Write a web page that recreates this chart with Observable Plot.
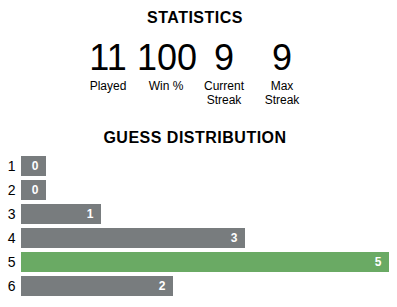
<!DOCTYPE html>
<html>
<head>
<meta charset="utf-8">
<script src="https://cdn.jsdelivr.net/npm/d3@7"></script>
<script src="https://cdn.jsdelivr.net/npm/@observablehq/plot@0.6"></script>
<style>
  html, body { margin: 0; padding: 0; background: #fff; }
  body { width: 397px; height: 307px; position: relative; overflow: hidden;
         font-family: "Liberation Sans", Arial, Helvetica, sans-serif; color: #000; }
  .title { position: absolute; left: 0; width: 390px; text-align: center;
           font-size: 16px; line-height: 16px; font-weight: bold; letter-spacing: 0.5px; }
  #stats { position: absolute; left: 79px; top: 40px; display: flex; }
  .stat { width: 58px; text-align: center; }
  .num { font-size: 36px; line-height: 36px; height: 39.3px; }
  .lab { font-size: 12px; line-height: 14px; white-space: pre-line; }
  #chart { position: absolute; left: 0; top: 150px; }
</style>
</head>
<body>
<div class="title" style="top:9.5px">STATISTICS</div>
<div id="stats"></div>
<div class="title" style="top:130px">GUESS DISTRIBUTION</div>
<div id="chart"></div>
<script>
const statValues = [11, 100, 9, 9];
const statLabels = ["Played", "Win %", "Current\nStreak", "Max\nStreak"];
const guesses = [1, 2, 3, 4, 5, 6];
const counts = [0, 0, 1, 3, 5, 2];
const winningGuess = 5;
const minBar = 0.236;

const statsEl = document.getElementById("stats");
statValues.forEach((v, i) => {
  const d = document.createElement("div");
  d.className = "stat";
  const n = document.createElement("div");
  n.className = "num";
  n.textContent = String(v);
  const l = document.createElement("div");
  l.className = "lab";
  l.textContent = statLabels[i];
  d.appendChild(n);
  d.appendChild(l);
  statsEl.appendChild(d);
});

const data = guesses.map((g, i) => ({guess: g, count: counts[i]}));

const chart = Plot.plot({
  width: 397,
  height: 157,
  marginLeft: 29,
  marginRight: 8,
  marginTop: 4,
  marginBottom: 9,
  style: {fontSize: "14px", fontFamily: "'Liberation Sans', Arial, Helvetica, sans-serif", color: "#000", background: "transparent"},
  x: {domain: [0, 5], axis: null},
  y: {domain: guesses, padding: 0, tickSize: 0, tickPadding: 14, label: null},
  color: {type: "identity"},
  marks: [
    Plot.barX(data, {
      x1: 0,
      x2: d => Math.max(d.count, minBar),
      y: "guess",
      fill: d => d.guess === winningGuess ? "#6aaa64" : "#787c7e",
      insetLeft: -8,
      insetTop: 2,
      insetBottom: 2
    }),
    Plot.text(data, {
      x: d => Math.max(d.count, minBar),
      y: "guess",
      text: d => String(d.count),
      textAnchor: "end",
      dx: -8,
      fill: "white",
      fontWeight: "bold",
      fontSize: 12
    })
  ]
});
document.getElementById("chart").appendChild(chart);
</script>
</body>
</html>
